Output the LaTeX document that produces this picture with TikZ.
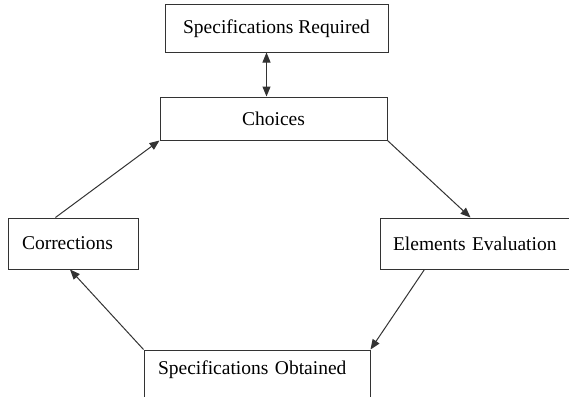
\documentclass[tikz,border=0pt]{standalone}
\usepackage{fontspec}
\setmainfont{Liberation Serif}
\usetikzlibrary{arrows.meta}

\begin{document}
\begin{tikzpicture}[x=1pt, y=-1pt, line width=1pt,
  every node/.style={rectangle, draw=black!80, inner sep=0pt, font=\fontsize{19.5}{22}\selectfont},
  leftbox/.style={align=left, inner xsep=14pt},
  link/.style={draw=black!80, -{Triangle[length=10pt, width=8pt]}}]
  \useasboundingbox (0,0) rectangle (569,396);

  % Boxes
  \node (req) at (276.5,28.5) [minimum width=223pt, minimum height=47pt] {Specifications Required};
  \node (choices) at (273.5,118.5) [minimum width=227pt, minimum height=43pt] {Choices};
  \node (corr) at (73,243.5) [leftbox, text width=102pt, minimum height=51pt] {Corrections};
  \node (elem) at (475.5,243.5) [leftbox, inner xsep=13pt, text width=165pt, minimum height=51pt] {Elements Evaluation};
  \node (obt) at (257,374) [leftbox, text width=198pt, text depth=12pt, minimum height=48pt] {Specifications Obtained};

  % Cycle
  \draw[link, {Triangle[length=10pt, width=8pt]}-{Triangle[length=10pt, width=8pt]}] ([xshift=-10pt]req.south) -- ([xshift=-7pt]choices.north);
  \draw[link] (choices.south east) -- ([xshift=-5pt]elem.north);
  \draw[link] (elem.207) -- (obt.north east);
  \draw[link] (obt.north west) -- ([xshift=-3pt]corr.south);
  \draw[link] (corr.124) -- (choices.south west);
\end{tikzpicture}
\end{document}
